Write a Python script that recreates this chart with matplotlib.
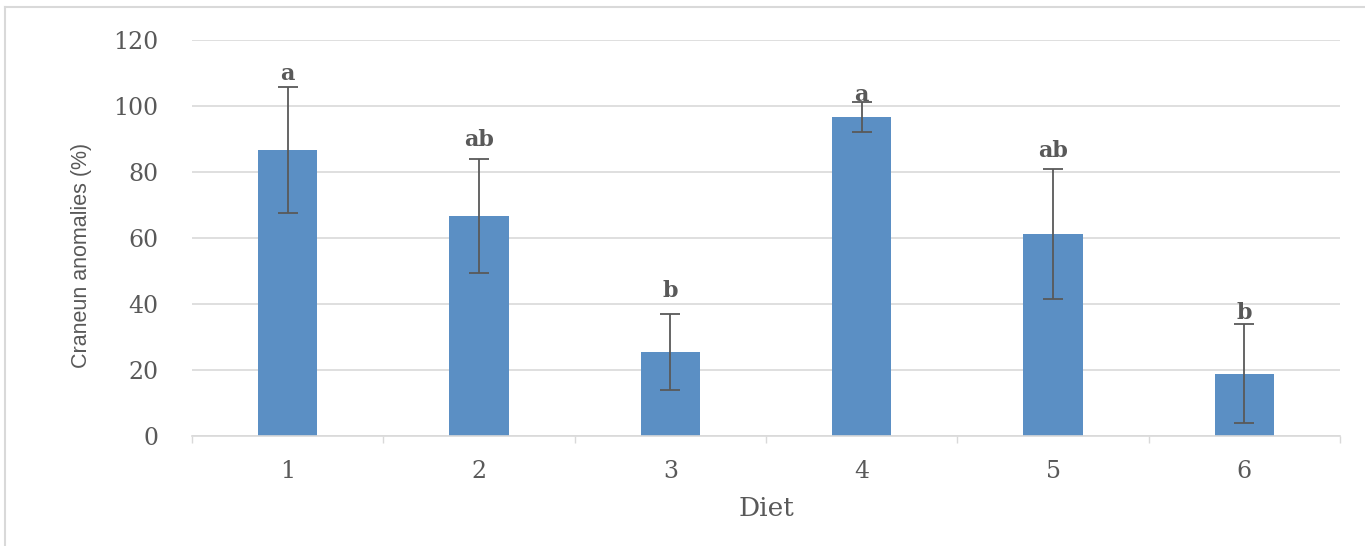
import matplotlib
matplotlib.use("Agg")
import matplotlib.pyplot as plt
from matplotlib.lines import Line2D
from matplotlib import font_manager as fm

diets = ["1", "2", "3", "4", "5", "6"]
values = [86.7, 66.7, 25.5, 96.7, 61.2, 18.8]
errors = [19.0, 17.2, 11.5, 4.5, 19.7, 15.0]
letters = ["a", "ab", "b", "a", "ab", "b"]
letter_y = [108.0, 88.0, 42.0, 101.5, 84.5, 35.5]
yticks = [0, 20, 40, 60, 80, 100, 120]

names = {f.name for f in fm.fontManager.ttflist}
label_font = "Liberation Sans Narrow" if "Liberation Sans Narrow" in names else "Liberation Sans"
serif = ["DejaVu Serif"]
txt = "#595959"
grid = "#D9D9D9"
bar_c = "#5B8FC4"

fig = plt.figure(figsize=(13.65, 5.46), dpi=100)
ax = fig.add_axes([192/1365, 1-436/546, (1340-192)/1365, (436-40)/546])

x = list(range(len(diets)))
ax.bar(x, values, width=0.31, color=bar_c, zorder=2)
ax.errorbar(x, values, yerr=errors, fmt="none", ecolor="#595959",
            elinewidth=1.3, capsize=7.5, capthick=1.3, zorder=3)
for xi, lab, ly in zip(x, letters, letter_y):
    ax.text(xi, ly, lab, ha="center", va="baseline", fontsize=16,
            fontweight="bold", color=txt, family=serif, zorder=4)

ax.set_xlim(-0.5, len(diets) - 0.5)
ax.set_ylim(0, 120)
ax.set_yticks(yticks)
ax.set_yticklabels([str(v) for v in yticks], family=serif, fontsize=17, color=txt)
ax.set_xticks(x)
ax.set_xticklabels(diets, family=serif, fontsize=17, color=txt)
ax.set_xticks([i - 0.5 for i in range(len(diets) + 1)], minor=True)
ax.tick_params(axis="x", which="major", length=0, pad=17)
ax.tick_params(axis="x", which="minor", length=5, color=grid, width=1)
ax.tick_params(axis="y", length=0, pad=24)
ax.yaxis.grid(True, color=grid, linewidth=1.2, zorder=0)
ax.set_axisbelow(True)
for s in ["top", "right", "left"]:
    ax.spines[s].set_visible(False)
ax.spines["bottom"].set_color(grid)
ax.spines["bottom"].set_linewidth(1.2)

ax.set_ylabel("Craneun anomalies (%)", family=[label_font, "DejaVu Sans"],
              fontsize=15.5, color=txt)
ax.yaxis.set_label_coords(-0.087, 0.457)
ax.set_xlabel("Diet", family=serif, fontsize=19, color=txt, labelpad=10)

fig.add_artist(Line2D([5/1365, 1.0], [1-7/546, 1-7/546], transform=fig.transFigure,
                      color=grid, linewidth=1.5))
fig.add_artist(Line2D([5/1365, 5/1365], [0, 1-7/546], transform=fig.transFigure,
                      color=grid, linewidth=1.5))

fig.savefig("out.png", dpi=100, facecolor="white")
